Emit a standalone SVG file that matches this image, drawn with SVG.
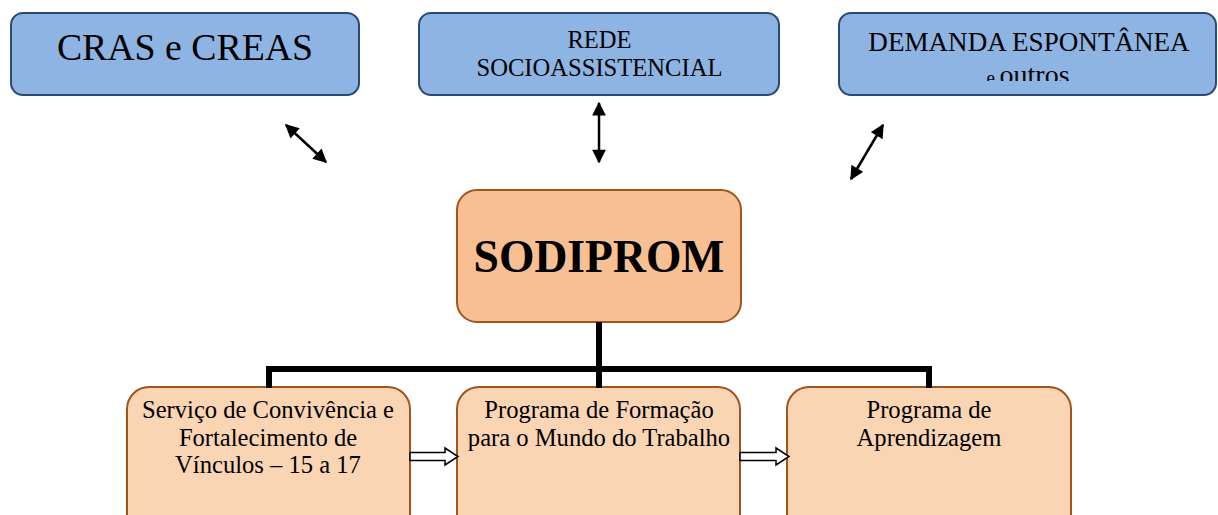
<svg xmlns="http://www.w3.org/2000/svg" width="1218" height="515" viewBox="0 0 1218 515">
<defs>
<style>
.top{fill:#8EB4E3;stroke:#2A4A72;stroke-width:2}
.main{fill:#F8C092;stroke:#A0541E;stroke-width:2}
.sub{fill:#FAD5B4;stroke:#A0541E;stroke-width:2}
text{font-family:'Liberation Serif', 'Times New Roman', Times, serif;fill:#000;text-anchor:middle}
.dbl{stroke:#000;stroke-width:2.5;fill:none;marker-start:url(#ah);marker-end:url(#ah)}
.tree{stroke:#000;stroke-width:6;fill:none;stroke-linejoin:miter}
.blk{fill:#fff;stroke:#000;stroke-width:1.5;stroke-linejoin:miter}
.b{font-size:24.6px}
</style>
<marker id="ah" viewBox="0 0 10 10" refX="9" refY="5" markerWidth="6" markerHeight="5.5" orient="auto-start-reverse" markerUnits="strokeWidth">
<path d="M0,0 L10,5 L0,10 z" fill="#000"/>
</marker>
<clipPath id="clipD"><rect x="839" y="13" width="377" height="68"/></clipPath>
</defs>
<g id="cras">
<rect class="top" x="11" y="13" width="348" height="82" rx="12"/>
<text x="185" y="60" font-size="37.8">CRAS e CREAS</text>
</g>
<g id="rede">
<rect class="top" x="419" y="13" width="360" height="82" rx="12"/>
<text x="599.5" y="48" font-size="24.6">REDE</text>
<text x="599.5" y="76" font-size="24.6">SOCIOASSISTENCIAL</text>
</g>
<g id="demanda">
<rect class="top" x="839" y="13" width="377" height="82" rx="12"/>
<text x="1029" y="51" font-size="27.1">DEMANDA ESPONTÂNEA</text>
<g clip-path="url(#clipD)">
<text x="1028" y="84" font-size="28"><tspan font-size="19">e </tspan>outros</text>
</g>
</g>
<g id="sodiprom">
<rect class="main" x="457" y="190" width="284" height="132" rx="20"/>
<text x="599" y="272" font-size="45.6" font-weight="bold">SODIPROM</text>
</g>
<g id="servico">
<rect class="sub" x="127" y="387" width="283" height="150" rx="22"/>
<text class="b" x="268" y="417.5">Serviço de Convivência e</text>
<text class="b" x="268" y="445.5">Fortalecimento de</text>
<text class="b" x="268" y="472.5">Vínculos – 15 a 17</text>
</g>
<g id="formacao">
<rect class="sub" x="457" y="387" width="283" height="150" rx="22"/>
<text class="b" x="599" y="417.5">Programa de Formação</text>
<text class="b" x="599" y="445.5">para o Mundo do Trabalho</text>
</g>
<g id="aprendizagem">
<rect class="sub" x="787" y="387" width="284" height="150" rx="22"/>
<text class="b" x="929" y="417.5">Programa de</text>
<text class="b" x="929" y="445.5">Aprendizagem</text>
</g>
<g id="connectors">
<line class="dbl" x1="286" y1="125" x2="326" y2="162"/>
<line class="dbl" x1="599" y1="103" x2="599" y2="162"/>
<line class="dbl" x1="883" y1="125" x2="851" y2="179"/>
<path class="tree" d="M599,322 V369 M269,388 V369 H929 V388 M599,369 V388"/>
<path class="blk" d="M410,452.5 H445 V448 L458,456.5 L445,465 V460.5 H410 Z"/>
<path class="blk" d="M740,452.5 H776 V448 L789,456.5 L776,465 V460.5 H740 Z"/>
</g>
</svg>
